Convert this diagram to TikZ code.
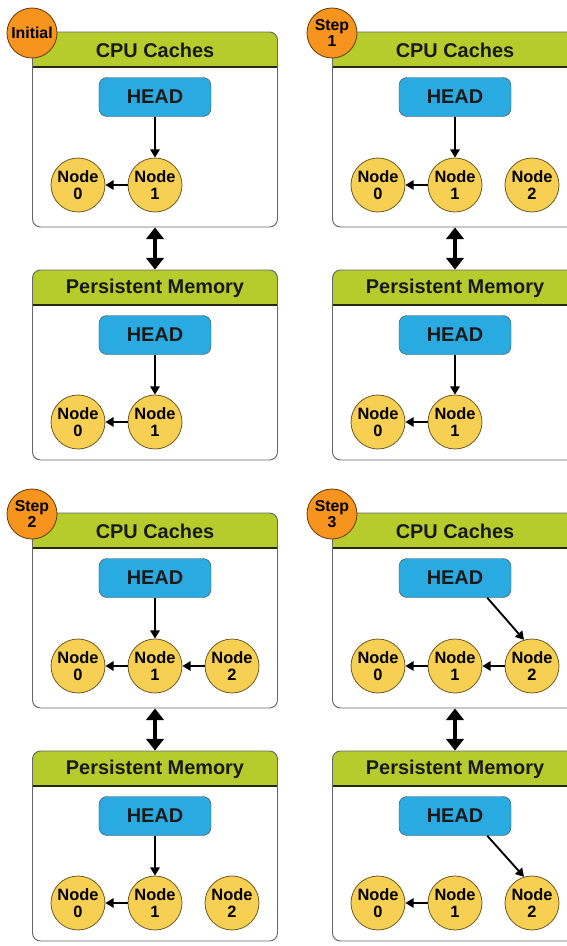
\documentclass[tikz,border=0pt]{standalone}
\usepackage{fontspec}
\setmainfont{Liberation Sans}
\usetikzlibrary{arrows.meta}
\definecolor{hdrgreen}{RGB}{181,204,44}
\definecolor{headblue}{RGB}{41,171,226}
\definecolor{nodeyellow}{RGB}{247,207,82}
\definecolor{badgeorange}{RGB}{247,148,30}

\begin{document}
\begin{tikzpicture}[x=0.03cm, y=-0.03cm, font=\bfseries,
    frame/.style={draw=black!60, line width=0.8pt, rounded corners=0.24cm, minimum width=7.35cm, inner sep=0pt,
      path picture={\fill[hdrgreen, sharp corners] (path picture bounding box.north west) rectangle ([yshift=-1.05cm]path picture bounding box.north east);
        \draw[black!80!hdrgreen, sharp corners, line width=0.9pt] ([yshift=-1.05cm]path picture bounding box.north west) -- ([yshift=-1.05cm]path picture bounding box.north east);}},
    title/.style={text=black!90, font=\bfseries\fontsize{17}{17}\selectfont},
    head/.style={draw=black!70, fill=headblue, text=black!90, rounded corners=0.24cm, minimum width=3.36cm, minimum height=1.17cm, font=\bfseries\fontsize{17}{17}\selectfont},
    item/.style={circle, draw=black!55!nodeyellow, line width=0.7pt, fill=nodeyellow, minimum size=1.62cm, inner sep=0pt, align=center, font=\bfseries\fontsize{14}{15}\selectfont},
    badge/.style={circle, draw=black!60!badgeorange, line width=0.7pt, fill=badgeorange, minimum size=1.5cm, inner sep=0pt, align=center, font=\bfseries\fontsize{13.5}{13}\selectfont},
    link/.style={-{Triangle[width=8pt,length=7pt]}, line width=1.6pt},
    sync/.style={{Triangle[width=15pt,length=10pt]}-{Triangle[width=15pt,length=10pt]}, line width=3.4pt}]
\clip (0,0) rectangle (567,946);

% initial
\node[frame, minimum height=5.85cm] (aC) at (155,129.5) {};
\node[title] (aCt) at (155,50) {CPU Caches};
\node[head] (aCh) at (155,97) {HEAD};
\node[item] (aC0) at (78,185) {Node\\0};
\node[item] (aC1) at (155,185) {Node\\1};
\draw[link] (aCh) -- (aC1);
\draw[link] (aC1) -- (aC0);
\node[frame, minimum height=5.7cm] (aM) at (155,365) {};
\node[title] (aMt) at (155,288) {Persistent Memory};
\node[head] (aMh) at (155,335) {HEAD};
\node[item] (aM0) at (78,422) {Node\\0};
\node[item] (aM1) at (155,422) {Node\\1};
\draw[link] (aMh) -- (aM1);
\draw[link] (aM1) -- (aM0);
\draw[sync] (aC) -- (aM);
\node[badge] (aB) at (32,33) {Initial};

% step 1
\begin{scope}[shift={(300,0)}]
\node[frame, minimum height=5.85cm] (bC) at (155,129.5) {};
\node[title] (bCt) at (155,50) {CPU Caches};
\node[head] (bCh) at (155,97) {HEAD};
\node[item] (bC0) at (78,185) {Node\\0};
\node[item] (bC1) at (155,185) {Node\\1};
\node[item] (bC2) at (232,185) {Node\\2};
\draw[link] (bCh) -- (bC1);
\draw[link] (bC1) -- (bC0);
\node[frame, minimum height=5.7cm] (bM) at (155,365) {};
\node[title] (bMt) at (155,288) {Persistent Memory};
\node[head] (bMh) at (155,335) {HEAD};
\node[item] (bM0) at (78,422) {Node\\0};
\node[item] (bM1) at (155,422) {Node\\1};
\draw[link] (bMh) -- (bM1);
\draw[link] (bM1) -- (bM0);
\draw[sync] (bC) -- (bM);
\node[badge] (bB) at (32,33) {Step\\1};
\end{scope}

% step 2
\begin{scope}[shift={(0,481)}]
\node[frame, minimum height=5.85cm] (cC) at (155,129.5) {};
\node[title] (cCt) at (155,50) {CPU Caches};
\node[head] (cCh) at (155,97) {HEAD};
\node[item] (cC0) at (78,185) {Node\\0};
\node[item] (cC1) at (155,185) {Node\\1};
\node[item] (cC2) at (232,185) {Node\\2};
\draw[link] (cCh) -- (cC1);
\draw[link] (cC2) -- (cC1);
\draw[link] (cC1) -- (cC0);
\node[frame, minimum height=5.7cm] (cM) at (155,365) {};
\node[title] (cMt) at (155,288) {Persistent Memory};
\node[head] (cMh) at (155,335) {HEAD};
\node[item] (cM0) at (78,422) {Node\\0};
\node[item] (cM1) at (155,422) {Node\\1};
\node[item] (cM2) at (232,422) {Node\\2};
\draw[link] (cMh) -- (cM1);
\draw[link] (cM1) -- (cM0);
\draw[sync] (cC) -- (cM);
\node[badge] (cB) at (32,33) {Step\\2};
\end{scope}

% step 3
\begin{scope}[shift={(300,481)}]
\node[frame, minimum height=5.85cm] (dC) at (155,129.5) {};
\node[title] (dCt) at (155,50) {CPU Caches};
\node[head] (dCh) at (155,97) {HEAD};
\node[item] (dC0) at (78,185) {Node\\0};
\node[item] (dC1) at (155,185) {Node\\1};
\node[item] (dC2) at (232,185) {Node\\2};
\draw[link] ([xshift=-0.72cm]dCh.south east) -- (dC2.107);
\draw[link] (dC2) -- (dC1);
\draw[link] (dC1) -- (dC0);
\node[frame, minimum height=5.7cm] (dM) at (155,365) {};
\node[title] (dMt) at (155,288) {Persistent Memory};
\node[head] (dMh) at (155,335) {HEAD};
\node[item] (dM0) at (78,422) {Node\\0};
\node[item] (dM1) at (155,422) {Node\\1};
\node[item] (dM2) at (232,422) {Node\\2};
\draw[link] ([xshift=-0.72cm]dMh.south east) -- (dM2.107);
\draw[link] (dM1) -- (dM0);
\draw[sync] (dC) -- (dM);
\node[badge] (dB) at (32,33) {Step\\3};
\end{scope}
\end{tikzpicture}
\end{document}
